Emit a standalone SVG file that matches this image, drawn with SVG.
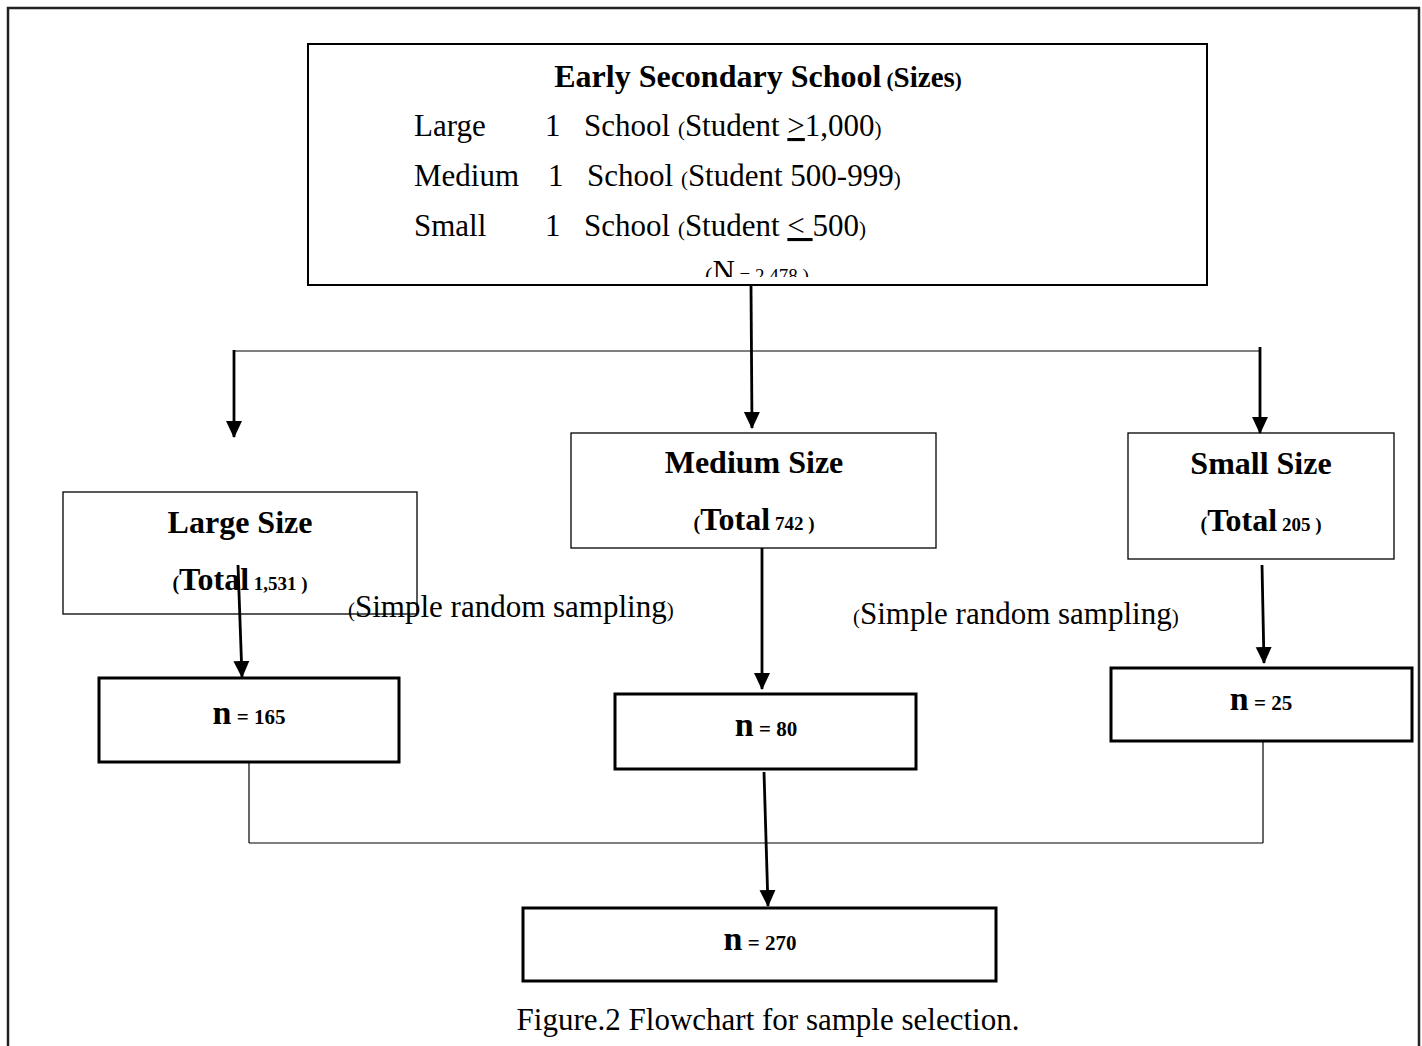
<svg xmlns="http://www.w3.org/2000/svg" width="1422" height="1046" viewBox="0 0 1422 1046">
<style>
text{font-family:"Liberation Serif","Times New Roman",serif;fill:#000}
.b{font-weight:bold}
.thin{fill:#fff;stroke:#000;stroke-width:1.3}
.thick{fill:#fff;stroke:#000;stroke-width:3}
.ln{fill:none;stroke:#000;stroke-width:1.2}
.ar{fill:none;stroke:#000;stroke-width:2.8;marker-end:url(#ah)}
.t32{font-size:32px}
.t31{font-size:31px}
</style>
<defs>
<marker id="ah" markerUnits="userSpaceOnUse" markerWidth="17" markerHeight="18" refX="16" refY="8" orient="auto" viewBox="0 0 17 16">
<path d="M0,0 L17,8 L0,16 Z" fill="#000"/>
</marker>
<clipPath id="nclip"><rect x="310" y="240" width="895" height="37"/></clipPath>
</defs>
<rect width="1422" height="1046" fill="#fff"/>
<path d="M8,1050 V8 H1419 V1050" fill="none" stroke="#222" stroke-width="2.5"/>

<g id="top">
<rect x="308" y="44" width="899" height="241" fill="#fff" stroke="#000" stroke-width="2"/>
<text x="758" y="87" text-anchor="middle" class="b"><tspan font-size="32">Early Secondary School</tspan><tspan font-size="21"> (</tspan><tspan font-size="29">Sizes</tspan><tspan font-size="21">)</tspan></text>
<text y="136" class="t31"><tspan x="414">Large</tspan><tspan x="545">1</tspan><tspan x="584">School </tspan><tspan font-size="21">(</tspan>Student <tspan text-decoration="underline">&gt;</tspan>1,000<tspan font-size="21">)</tspan></text>
<text y="186" class="t31"><tspan x="414">Medium</tspan><tspan x="548">1</tspan><tspan x="587">School </tspan><tspan font-size="21">(</tspan>Student 500-999<tspan font-size="21">)</tspan></text>
<text y="236" class="t31"><tspan x="414">Small</tspan><tspan x="545">1</tspan><tspan x="584">School </tspan><tspan font-size="21">(</tspan>Student <tspan text-decoration="underline">&lt; </tspan>500<tspan font-size="21">)</tspan></text>
<text x="757" y="282" text-anchor="middle" clip-path="url(#nclip)"><tspan font-size="22">(</tspan><tspan font-size="31">N</tspan><tspan font-size="19"> = 2,478 )</tspan></text>
</g>

<g id="large">
<rect x="63" y="492" width="354" height="122" class="thin"/>
<text x="240" y="533" text-anchor="middle" class="b t32">Large Size</text>
<text x="240" y="590" text-anchor="middle" class="b"><tspan font-size="20">(</tspan><tspan font-size="32">Total</tspan><tspan font-size="19"> 1,531 )</tspan></text>
</g>

<g id="medium">
<rect x="571" y="433" width="365" height="115" class="thin"/>
<text x="754" y="473" text-anchor="middle" class="b t32">Medium Size</text>
<text x="754" y="530" text-anchor="middle" class="b"><tspan font-size="20">(</tspan><tspan font-size="32">Total</tspan><tspan font-size="19"> 742 )</tspan></text>
</g>

<g id="small">
<rect x="1128" y="433" width="266" height="126" class="thin"/>
<text x="1261" y="474" text-anchor="middle" class="b t32">Small Size</text>
<text x="1261" y="531" text-anchor="middle" class="b"><tspan font-size="20">(</tspan><tspan font-size="32">Total</tspan><tspan font-size="19"> 205 )</tspan></text>
</g>

<g id="labels">
<text x="348" y="617" class="t31"><tspan font-size="21">(</tspan>Simple random sampling<tspan font-size="21">)</tspan></text>
<text x="853" y="624" class="t31"><tspan font-size="21">(</tspan>Simple random sampling<tspan font-size="21">)</tspan></text>
</g>

<g id="n165">
<rect x="99" y="678" width="300" height="84" class="thick"/>
<text x="249" y="724" text-anchor="middle" class="b"><tspan font-size="34">n</tspan><tspan font-size="21"> = 165</tspan></text>
</g>
<g id="n80">
<rect x="615" y="694" width="301" height="75" class="thick"/>
<text x="766" y="736" text-anchor="middle" class="b"><tspan font-size="34">n</tspan><tspan font-size="21"> = 80</tspan></text>
</g>
<g id="n25">
<rect x="1111" y="668" width="301" height="73" class="thick"/>
<text x="1261" y="710" text-anchor="middle" class="b"><tspan font-size="34">n</tspan><tspan font-size="21"> = 25</tspan></text>
</g>
<g id="n270">
<rect x="523" y="908" width="473" height="73" class="thick"/>
<text x="760" y="950" text-anchor="middle" class="b"><tspan font-size="34">n</tspan><tspan font-size="21"> = 270</tspan></text>
</g>

<g id="connectors">
<line x1="234" y1="351" x2="1259" y2="351" class="ln"/>
<line x1="234" y1="350" x2="234" y2="437" class="ar"/>
<line x1="751" y1="285" x2="752" y2="428" class="ar"/>
<line x1="1260" y1="347" x2="1260" y2="433" class="ar"/>
<line x1="238" y1="565" x2="242" y2="677" class="ar"/>
<line x1="762" y1="548" x2="762" y2="689" class="ar"/>
<line x1="1262" y1="565" x2="1264" y2="663" class="ar"/>
<line x1="249" y1="762" x2="249" y2="843" class="ln"/>
<line x1="1263" y1="741" x2="1263" y2="843" class="ln"/>
<line x1="249" y1="843" x2="1263" y2="843" class="ln"/>
<line x1="764" y1="772" x2="768" y2="906" class="ar"/>
</g>

<g id="caption">
<text x="768" y="1030" text-anchor="middle" class="t31">Figure.2 Flowchart for sample selection.</text>
</g>
</svg>
